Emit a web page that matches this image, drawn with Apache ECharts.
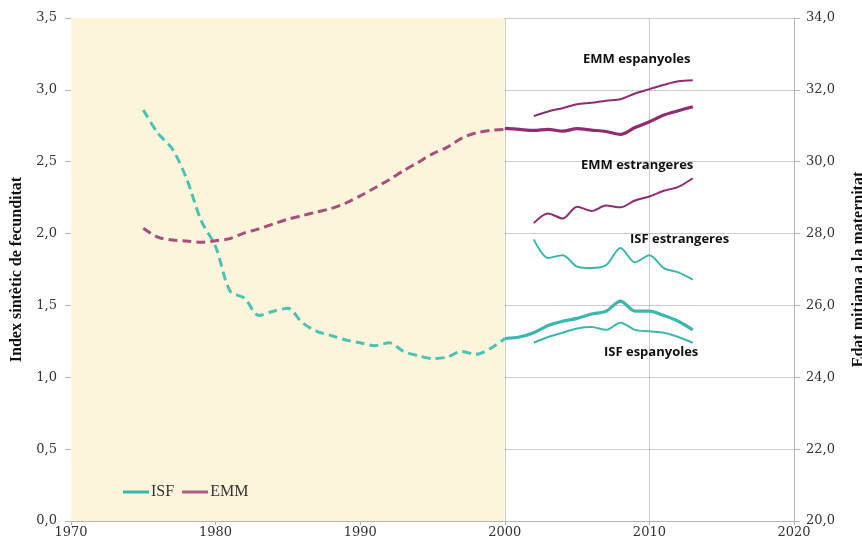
<!DOCTYPE html>
<html>
<head>
<meta charset="utf-8">
<script src="https://cdn.jsdelivr.net/npm/echarts@6/dist/echarts.min.js"></script>
<style>html,body{margin:0;padding:0;background:#fff}#c{width:862px;height:545px}</style>
</head>
<body>
<div id="c"></div>
<script>
// Historical period 1975-2000 (dashed)
var yearsHist = [1975,1976,1977,1978,1979,1980,1981,1982,1983,1984,1985,1986,1987,1988,1989,1990,1991,1992,1993,1994,1995,1996,1997,1998,1999,2000];
var isfHist = [2.86,2.70,2.59,2.38,2.09,1.91,1.60,1.55,1.43,1.46,1.48,1.38,1.32,1.29,1.26,1.24,1.22,1.24,1.18,1.15,1.13,1.14,1.18,1.16,1.20,1.27];
var emmHist = [28.15,27.90,27.82,27.79,27.76,27.80,27.86,28.02,28.13,28.27,28.40,28.50,28.60,28.70,28.85,29.05,29.27,29.50,29.75,29.98,30.22,30.40,30.65,30.80,30.87,30.90];
// Recent period totals 2000-2013
var yearsRecent = [2000,2001,2002,2003,2004,2005,2006,2007,2008,2009,2010,2011,2012,2013];
var isfTotal = [1.27,1.28,1.31,1.36,1.39,1.41,1.44,1.46,1.53,1.46,1.46,1.43,1.39,1.33];
var emmTotal = [30.93,30.90,30.87,30.90,30.85,30.92,30.88,30.84,30.76,30.95,31.11,31.30,31.42,31.53];
// By nationality 2002-2013
var yearsNat = [2002,2003,2004,2005,2006,2007,2008,2009,2010,2011,2012,2013];
var isfEspanyoles = [1.24,1.28,1.31,1.34,1.35,1.33,1.38,1.33,1.32,1.31,1.28,1.24];
var isfEstrangeres = [1.96,1.83,1.85,1.77,1.76,1.78,1.90,1.80,1.85,1.76,1.73,1.68];
var emmEspanyoles = [31.27,31.40,31.49,31.60,31.64,31.70,31.74,31.90,32.02,32.14,32.24,32.27];
var emmEstrangeres = [28.29,28.56,28.42,28.75,28.63,28.78,28.73,28.92,29.03,29.19,29.30,29.54];

function pairs(xs, ys){ return xs.map(function(x,i){ return [x, ys[i]]; }); }
var ISF_C = '#3db7ad', ISF_D = '#4cc2b4', EMM_C = '#8f2c72', EMM_D = '#a64f7d';
var serif = '"Liberation Serif", "DejaVu Serif", serif';
var numFont = '"DejaVu Serif", serif';
var fmt = function(v){ return v.toFixed(1).replace('.', ','); };

var chart = echarts.init(document.getElementById('c'));
chart.setOption({
  animation: false,
  grid: {left: 71, right: 68, top: 18, bottom: 24, outerBoundsMode: 'none', containLabel: false},
  legend: {
    left: 118, top: 479, itemWidth: 26, itemHeight: 3, itemGap: 8, icon: 'rect',
    data: ['ISF', 'EMM'],
    textStyle: {fontFamily: serif, fontSize: 16, color: '#333', padding: [0,0,0,-3]}
  },
  xAxis: {
    type: 'value', min: 1970, max: 2020, interval: 10,
    axisLine: {show: true, lineStyle: {color: '#b5b5b5'}},
    axisTick: {show: true, length: 4, lineStyle: {color: '#b5b5b5'}},
    axisLabel: {fontFamily: numFont, fontSize: 13, color: '#333', margin: 5, formatter: function(v){ return String(v); }},
    splitLine: {show: true, lineStyle: {color: 'rgba(0,0,0,0.2)'}}
  },
  yAxis: [{
    type: 'value', min: 0, max: 3.5, interval: 0.5,
    name: 'Index sintètic de fecunditat', nameLocation: 'middle', nameGap: 46,
    nameTextStyle: {fontFamily: serif, fontSize: 16, fontWeight: 'bold', color: '#111'},
    axisLine: {show: true, lineStyle: {color: '#b5b5b5'}},
    axisTick: {show: true, length: 6, lineStyle: {color: '#b5b5b5'}},
    axisLabel: {fontFamily: numFont, fontSize: 13, color: '#333', margin: 14, formatter: fmt},
    splitLine: {show: true, lineStyle: {color: 'rgba(0,0,0,0.2)'}}
  }, {
    type: 'value', min: 20, max: 34, interval: 2,
    name: 'Edat mitjana a la maternitat', nameLocation: 'middle', nameGap: 57,
    nameTextStyle: {fontFamily: serif, fontSize: 16, fontWeight: 'bold', color: '#111'},
    axisLine: {show: true, lineStyle: {color: '#b5b5b5'}},
    axisTick: {show: true, length: 6, lineStyle: {color: '#b5b5b5'}},
    axisLabel: {fontFamily: numFont, fontSize: 13, color: '#333', margin: 12, formatter: fmt},
    splitLine: {show: false}
  }],
  graphic: [
    {type: 'text', left: 583, top: 53, style: {text: 'EMM espanyoles', font: 'bold 13px "Open Sans", sans-serif', fill: '#111'}},
    {type: 'text', left: 581, top: 159, style: {text: 'EMM estrangeres', font: 'bold 13px "Open Sans", sans-serif', fill: '#111'}},
    {type: 'text', left: 630, top: 233, style: {text: 'ISF estrangeres', font: 'bold 13px "Open Sans", sans-serif', fill: '#111'}},
    {type: 'text', left: 604, top: 346, style: {text: 'ISF espanyoles', font: 'bold 13px "Open Sans", sans-serif', fill: '#111'}}
  ],
  series: [
    {name: 'bg', type: 'line', data: [], silent: true,
     markArea: {silent: true, itemStyle: {color: '#fcf5dc'}, data: [[{xAxis: 1970}, {xAxis: 2000}]]}},
    {name: 'ISF', type: 'line', data: [], symbol: 'none', lineStyle: {color: ISF_C, width: 3}, itemStyle: {color: ISF_C}},
    {name: 'EMM', type: 'line', data: [], symbol: 'none', yAxisIndex: 1, lineStyle: {color: '#b05a88', width: 3}, itemStyle: {color: '#b05a88'}},
    {name: 'ISF hist', type: 'line', data: pairs(yearsHist, isfHist), smooth: 0.3, symbol: 'none',
     lineStyle: {color: ISF_D, width: 3, type: [9, 5]}},
    {name: 'EMM hist', type: 'line', yAxisIndex: 1, data: pairs(yearsHist, emmHist), smooth: 0.3, symbol: 'none',
     lineStyle: {color: EMM_D, width: 3, type: [9, 5]}},
    {name: 'ISF total', type: 'line', data: pairs(yearsRecent, isfTotal), smooth: 0.3, symbol: 'none',
     lineStyle: {color: ISF_C, width: 3.2}},
    {name: 'EMM total', type: 'line', yAxisIndex: 1, data: pairs(yearsRecent, emmTotal), smooth: 0.3, symbol: 'none',
     lineStyle: {color: EMM_C, width: 3.2}},
    {name: 'ISF espanyoles', type: 'line', data: pairs(yearsNat, isfEspanyoles), smooth: 0.3, symbol: 'none',
     lineStyle: {color: ISF_C, width: 2}},
    {name: 'ISF estrangeres', type: 'line', data: pairs(yearsNat, isfEstrangeres), smooth: 0.3, symbol: 'none',
     lineStyle: {color: ISF_C, width: 2}},
    {name: 'EMM espanyoles', type: 'line', yAxisIndex: 1, data: pairs(yearsNat, emmEspanyoles), smooth: 0.3, symbol: 'none',
     lineStyle: {color: EMM_C, width: 2}},
    {name: 'EMM estrangeres', type: 'line', yAxisIndex: 1, data: pairs(yearsNat, emmEstrangeres), smooth: 0.3, symbol: 'none',
     lineStyle: {color: EMM_C, width: 2}}
  ]
});
</script>
</body>
</html>
